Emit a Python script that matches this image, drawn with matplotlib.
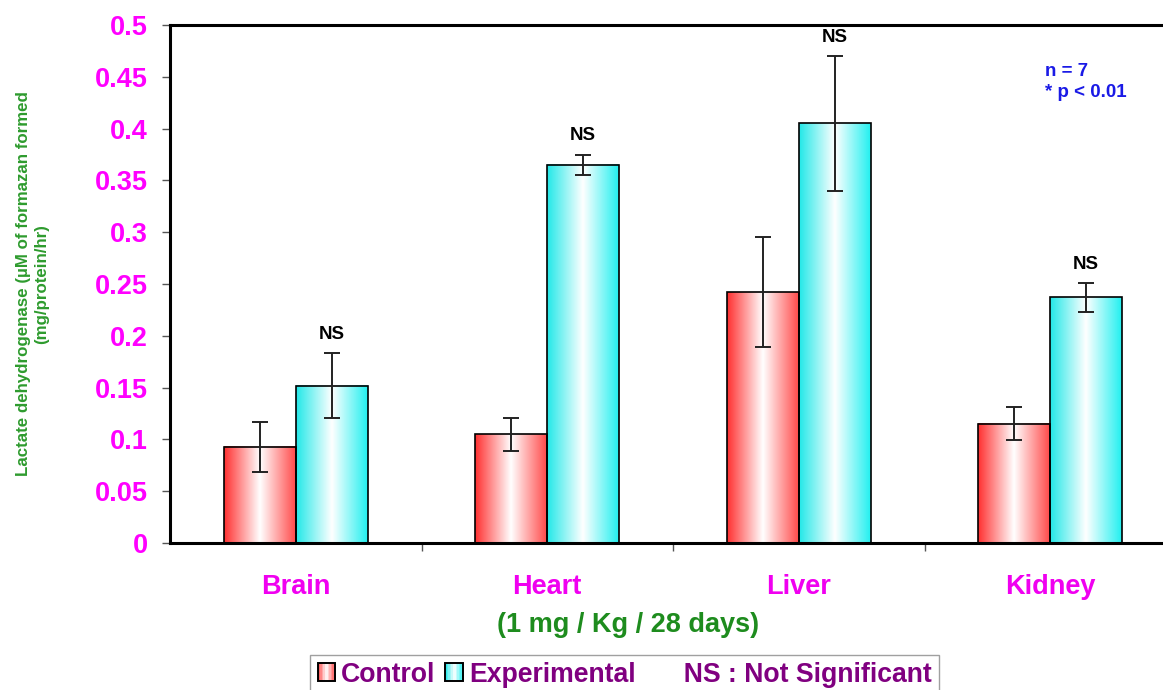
import matplotlib
matplotlib.use("Agg")
import matplotlib.pyplot as plt
import matplotlib.patches as patches
from matplotlib.colors import LinearSegmentedColormap
from matplotlib.legend_handler import HandlerBase
import numpy as np

plt.rcParams['font.family'] = ['Liberation Sans', 'DejaVu Sans']
plt.rcParams['font.weight'] = 'bold'

# data
organs = ['Brain', 'Heart', 'Liver', 'Kidney']
control = [0.093, 0.105, 0.242, 0.115]
control_err = [0.024, 0.016, 0.053, 0.016]
experimental = [0.152, 0.365, 0.405, 0.237]
experimental_err = [0.031, 0.010, 0.065, 0.014]
sig_labels = ['NS', 'NS', 'NS', 'NS']

red_cmap = LinearSegmentedColormap.from_list('redgrad', ['#FF3030', '#FFFFFF', '#FF4A4A'])
cyan_cmap = LinearSegmentedColormap.from_list('cyangrad', ['#22E8E8', '#FFFFFF', '#22F0F0'])
grad = np.linspace(0, 1, 256).reshape(1, -1)


class GradientHandler(HandlerBase):
    def __init__(self, cmap):
        super().__init__()
        self.cmap = cmap

    def create_artists(self, legend, orig_handle, xdescent, ydescent, width, height, fontsize, trans):
        n = 12
        side = min(width, height * 0.95)
        x0 = -xdescent + (width - side) / 2
        y0 = -ydescent + (height - side) / 2
        arts = []
        for k in range(n):
            r = patches.Rectangle((x0 + side * k / n, y0), side / n + 0.3, side,
                                  facecolor=self.cmap((k + 0.5) / n), edgecolor='none', transform=trans)
            arts.append(r)
        arts.append(patches.Rectangle((x0, y0), side, side, facecolor='none',
                                      edgecolor='black', linewidth=1.4, transform=trans))
        return arts


fig = plt.figure(figsize=(11.63, 6.9), dpi=100)
ax = fig.add_axes([170 / 1163, 1 - 543 / 690, 1006 / 1163, 518 / 690])

x = np.arange(len(organs))
w = 0.286

for i in range(len(organs)):
    for xc, h, cm in [(x[i] - w / 2, control[i], red_cmap), (x[i] + w / 2, experimental[i], cyan_cmap)]:
        ax.imshow(grad, extent=[xc - w / 2, xc + w / 2, 0, h], aspect='auto', cmap=cm, zorder=1)

ax.bar(x - w / 2, control, w, fill=False, edgecolor='black', linewidth=1.2, zorder=2)
ax.bar(x + w / 2, experimental, w, fill=False, edgecolor='black', linewidth=1.2, zorder=2)
ax.errorbar(x - w / 2, control, yerr=control_err, fmt='none', ecolor='#222222',
            elinewidth=1.4, capsize=6, capthick=1.4, zorder=3)
ax.errorbar(x + w / 2, experimental, yerr=experimental_err, fmt='none', ecolor='#222222',
            elinewidth=1.4, capsize=6, capthick=1.4, zorder=3)

for i in range(len(organs)):
    ax.text(x[i] + w / 2, experimental[i] + experimental_err[i] + 0.018, sig_labels[i],
            ha='center', va='center', fontsize=13.5, fontweight='bold', color='black')

ax.set_xlim(-0.5, 3.5)
ax.set_ylim(0, 0.5)
ax.set_yticks(np.arange(0, 0.51, 0.05))
ax.set_yticklabels(['0', '0.05', '0.1', '0.15', '0.2', '0.25', '0.3', '0.35', '0.4', '0.45', '0.5'])
ax.tick_params(axis='y', direction='out', length=6, width=1, color='#555555', pad=10,
               labelsize=19.5, labelcolor='#FF00FF')
ax.set_xticks(x)
ax.set_xticklabels(organs)
ax.set_xticks([0.5, 1.5, 2.5], minor=True)
ax.tick_params(axis='x', which='major', length=0, pad=22, labelsize=19.5, labelcolor='#F000F0')
ax.tick_params(axis='x', which='minor', direction='out', length=6, width=1, color='#555555')
for lab in ax.get_xticklabels() + ax.get_yticklabels():
    lab.set_fontweight('bold')

for s in ['left', 'top', 'bottom', 'right']:
    ax.spines[s].set_linewidth(2.2)
    ax.spines[s].set_color('black')

ax.set_xlabel('(1 mg / Kg / 28 days)', fontsize=19.5, fontweight='bold', color='#1E8C1E')
ax.xaxis.set_label_coords(0.455, -0.133)

fig.text(0.028, 1 - 284 / 690, 'Lactate dehydrogenase (\u00b5M of formazan formed\n(mg/protein/hr)',
         rotation=90, ha='center', va='center', fontsize=12.2, fontweight='bold',
         color='#2E9B2E', multialignment='center')

ax.text(0.87, 0.89, 'n = 7\n* p < 0.01', transform=ax.transAxes, ha='left', va='center',
        fontsize=13.5, fontweight='bold', color='#1A1AE6', linespacing=1.25)

h_ctrl = patches.Patch(label='Control')
h_exp = patches.Patch(label='Experimental')
h_ns = patches.Patch(visible=False, label='NS : Not Significant')
leg = fig.legend([h_ctrl, h_exp, h_ns], ['Control', 'Experimental', '  NS : Not Significant'],
                 handler_map={h_ctrl: GradientHandler(red_cmap), h_exp: GradientHandler(cyan_cmap)},
                 loc='upper center', bbox_to_anchor=(0.537, 1 - 655 / 690), ncol=3,
                 frameon=True, fancybox=False, edgecolor='#888888', fontsize=19.2,
                 handlelength=0.7, handletextpad=0.2, columnspacing=0.36,
                 borderpad=0.25, borderaxespad=0)
leg.get_frame().set_linewidth(1)
for t in leg.get_texts():
    t.set_color('#800080')
    t.set_fontweight('bold')

fig.savefig('out.png', dpi=100)
